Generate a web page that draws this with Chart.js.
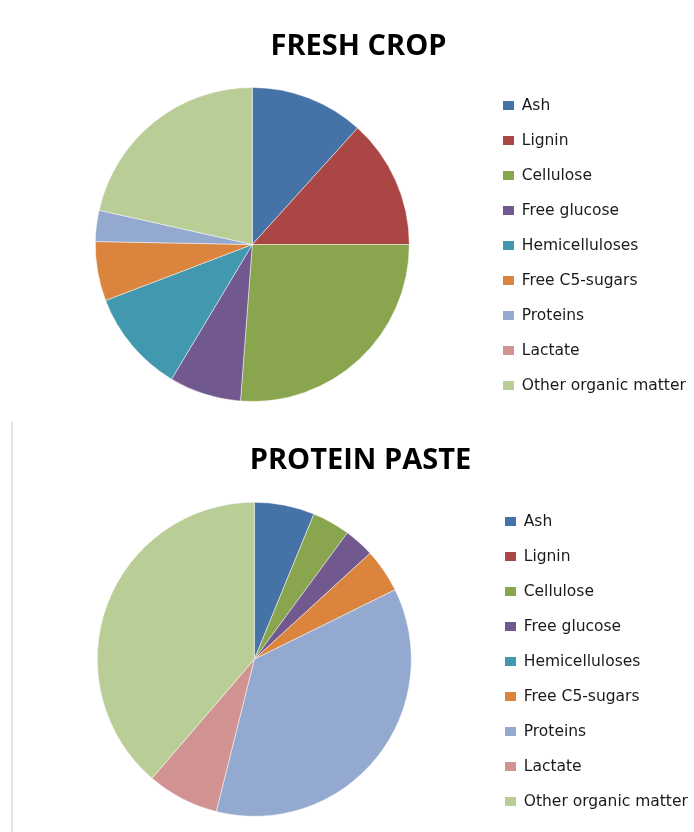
<!DOCTYPE html>
<html>
<head>
<meta charset="utf-8">
<script src="https://cdn.jsdelivr.net/npm/chart.js@4/dist/chart.umd.min.js"></script>
<style>
  html, body { margin: 0; padding: 0; background: #fff; }
  #wrap { position: relative; width: 694px; height: 832px; overflow: hidden; }
  canvas { position: absolute; left: 0; }
  #c1 { top: 0; }
  #c2 { top: 416px; }
  #rule { position: absolute; left: 11px; top: 422px; width: 2px; height: 410px; background: #e3e3e3; }
</style>
</head>
<body>
<div id="wrap">
  <canvas id="c1" width="694" height="416"></canvas>
  <canvas id="c2" width="694" height="416"></canvas>
  <div id="rule"></div>
</div>
<script>
const categories = ['Ash', 'Lignin', 'Cellulose', 'Free glucose', 'Hemicelluloses', 'Free C5-sugars', 'Proteins', 'Lactate', 'Other organic matter'];
const freshCrop = [11.7, 13.3, 26.2, 7.4, 10.6, 6.1, 3.2, 0, 21.5];
const proteinPaste = [6.2, 0, 3.9, 3.1, 0, 4.5, 36.2, 7.4, 38.7];
const colors = ['#4572A7', '#AA4643', '#89A54E', '#71588F', '#4198AF', '#DB843D', '#93A9CF', '#D19392', '#B9CD96'];

const W = 694, H = 416;
const legendFont = { family: '"DejaVu Sans", sans-serif', size: 15.5 };
const titleFont = { family: '"Open Sans", sans-serif', size: 29, weight: 'bold', lineHeight: 1.2 };
const LPAD = 19.5, BOXW = 11, BOXH = 9;

function measureMax() {
  const c = document.createElement('canvas').getContext('2d');
  c.font = legendFont.size + 'px ' + legendFont.family;
  return Math.max(...categories.map(t => c.measureText(t).width));
}

function makeChart(id, title, values, g) {
  const textW = measureMax();
  const legendW = LPAD + BOXW + legendFont.size / 2 + textW + 10;
  const legendLeft = g.boxLeft - LPAD;
  const padR = W - legendLeft - legendW;
  const padL = 2 * g.cx - legendLeft;
  const colH = categories.length * (legendFont.size + LPAD);
  const padB = H - (g.firstY - legendFont.size / 2 + colH);
  const chartTop = 2 * g.cy - (H - padB);
  const lh = titleFont.size * titleFont.lineHeight;
  const tTop = g.titleCY - lh / 2;
  const tBottom = chartTop - tTop - lh;
  return new Chart(document.getElementById(id), {
    type: 'pie',
    data: {
      labels: categories,
      datasets: [{
        data: values,
        backgroundColor: colors,
        borderColor: 'rgba(255,255,255,0.6)',
        borderWidth: 0.8,
        radius: g.r
      }]
    },
    options: {
      responsive: false,
      animation: false,
      devicePixelRatio: 1,
      rotation: 0,
      layout: { padding: { left: padL, right: padR, top: 0, bottom: padB } },
      plugins: {
        tooltip: { enabled: false },
        title: {
          display: true,
          text: title,
          color: '#000',
          font: titleFont,
          padding: { top: tTop, bottom: tBottom }
        },
        legend: {
          position: 'right',
          align: 'end',
          fullSize: true,
          labels: {
            boxWidth: BOXW,
            boxHeight: BOXH,
            padding: LPAD,
            color: '#1a1a1a',
            font: legendFont,
            generateLabels: (chart) => Chart.overrides.pie.plugins.legend.labels.generateLabels(chart).map(it => Object.assign(it, { lineWidth: 0, strokeStyle: 'rgba(0,0,0,0)' }))
          }
        }
      }
    }
  });
}

makeChart('c1', 'FRESH CROP', freshCrop, { cx: 252.3, cy: 244.5, r: 157, boxLeft: 503, titleCY: 46.5, firstY: 105.5 });
makeChart('c2', 'PROTEIN PASTE', proteinPaste, { cx: 254.3, cy: 243.3, r: 157, boxLeft: 505, titleCY: 45, firstY: 105.5 });
</script>
</body>
</html>
